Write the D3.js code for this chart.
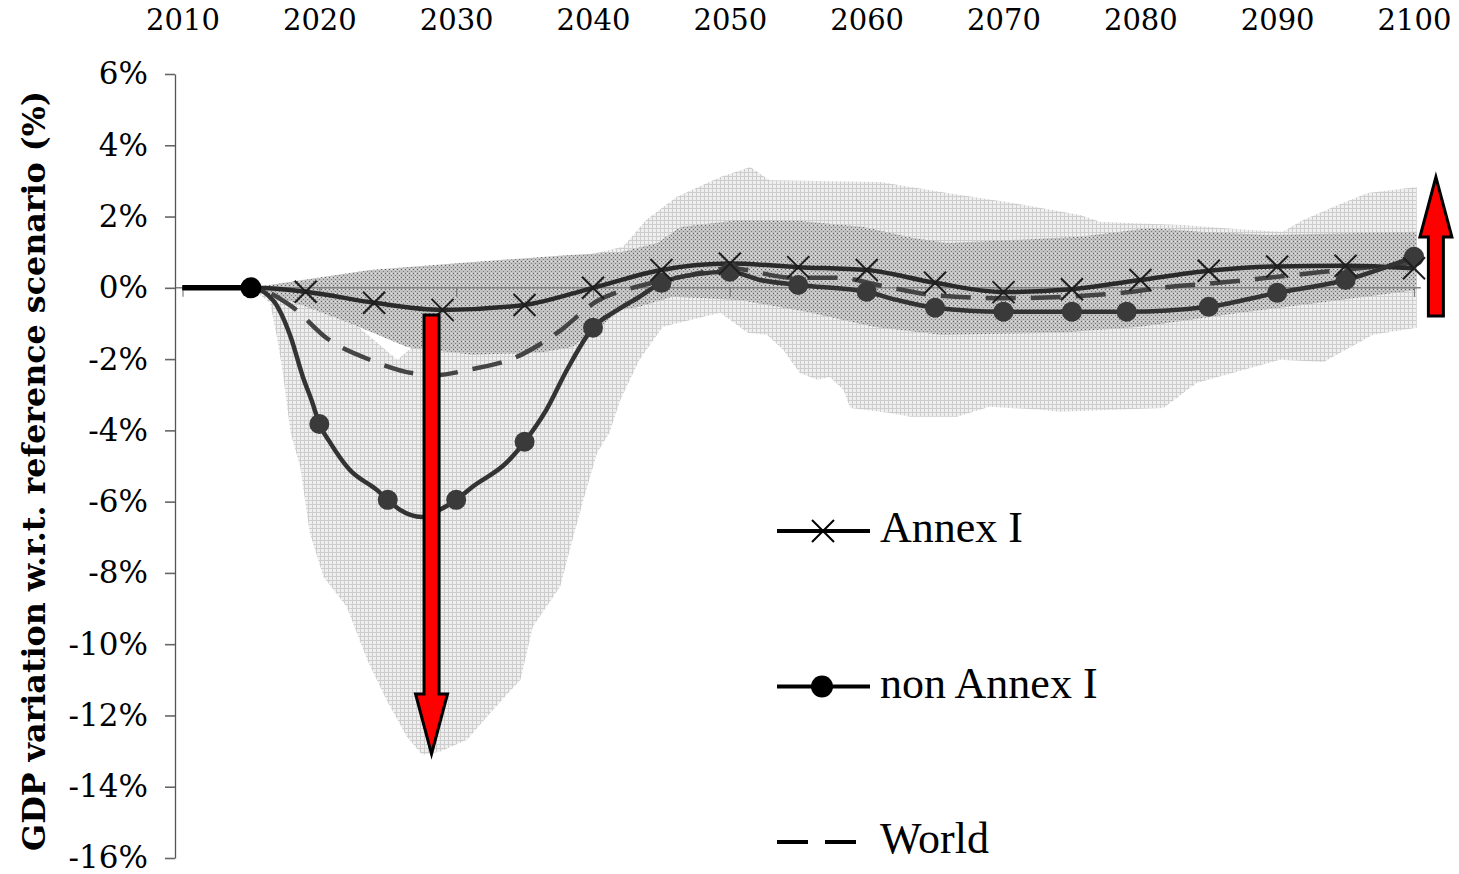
<!DOCTYPE html>
<html>
<head>
<meta charset="utf-8">
<script src="https://cdn.jsdelivr.net/npm/d3@7/dist/d3.min.js"></script>
<style>
  body { margin: 0; background: #fff; }
  svg { display: block; }
</style>
</head>
<body>
<script>
// tick labels
const topYears = [2010, 2020, 2030, 2040, 2050, 2060, 2070, 2080, 2090, 2100];
const yTicks = [-16, -14, -12, -10, -8, -6, -4, -2, 0, 2, 4, 6];
const zeroTicks = [2010, 2020, 2030, 2040, 2050, 2060, 2070, 2080, 2090, 2100];

// series [year, % GDP variation]
const annexI = [[2010,0],[2015,0],[2019,-0.11],[2024,-0.42],[2029,-0.62],[2035,-0.48],[2040,0.0],
  [2045,0.5],[2050,0.68],[2055,0.58],[2060,0.5],[2065,0.14],[2070,-0.12],[2075,-0.04],[2080,0.22],
  [2085,0.48],[2090,0.6],[2095,0.62],[2100,0.55]];
const annexIMarks = [2019, 2024, 2029, 2035, 2040, 2045, 2050, 2055, 2060, 2065, 2070, 2075, 2080, 2085, 2090, 2095, 2100];

const nonAnnexI = [[2010,0],[2015,0],[2016.6,-0.34],[2017.9,-1.37],[2018.8,-2.5],[2019.5,-3.23],[2020,-3.82],
  [2020.8,-4.35],[2022.2,-5.1],[2024.2,-5.67],[2025,-5.95],[2025.9,-6.23],[2027.5,-6.43],[2028.8,-6.23],
  [2030,-5.95],[2031.2,-5.58],[2033.7,-4.9],[2035,-4.32],[2036.6,-3.42],[2038.1,-2.3],[2040,-1.12],
  [2041.8,-0.62],[2043.4,-0.25],[2045,0.14],[2047.5,0.38],[2050,0.45],[2052.2,0.22],[2055,0.08],
  [2060,-0.11],[2062.2,-0.34],[2065,-0.56],[2070,-0.67],[2075,-0.67],[2079,-0.67],[2085,-0.53],
  [2090,-0.14],[2095,0.22],[2100,0.87]];
const nonAnnexIMarks = [2020, 2025, 2030, 2035, 2040, 2045, 2050, 2055, 2060, 2065, 2070, 2075, 2079, 2085, 2090, 2095, 2100];

const world = [[2010,0],[2015,0],[2017.9,-0.5],[2020.6,-1.43],[2023.9,-2.05],[2026.9,-2.4],[2028.5,-2.45],
  [2030.9,-2.3],[2034.3,-1.96],[2037.4,-1.26],[2040.3,-0.37],[2043.7,0.08],[2047,0.35],[2050,0.55],
  [2054.6,0.28],[2057.9,0.28],[2061.2,0.05],[2064.8,-0.2],[2070,-0.29],[2074.7,-0.25],[2078.7,-0.14],
  [2082.2,0.03],[2085.7,0.14],[2089.3,0.28],[2092.7,0.42],[2100,0.7]];

// uncertainty ranges
const outerUpper = [[2015,0],[2019,-0.3],[2022.5,-0.98],[2025.7,-2.02],[2026.8,-1.66],[2028,-0.9],[2032,0.4],
  [2036,0.75],[2039.05,0.87],[2042.2,1.15],[2043.9,1.91],[2046.1,2.55],[2049.3,3.11],[2051.5,3.39],
  [2052.9,3.02],[2061,2.97],[2065.9,2.66],[2070.7,2.38],[2075.6,2.04],[2077.1,1.85],[2083.1,1.76],
  [2088,1.62],[2090.4,1.57],[2091.9,1.9],[2094.1,2.27],[2096.6,2.66],[2100.2,2.83]];
const outerLower = [[2015,0],[2016.4,-0.42],[2016.9,-1.38],[2017.3,-2.3],[2017.9,-4.07],[2018.6,-5.02],
  [2019.3,-6.87],[2020.3,-8.11],[2022,-8.95],[2023.5,-10.44],[2024.9,-11.56],[2026.4,-12.6],[2027.5,-13.1],
  [2028.8,-13.02],[2030.8,-12.68],[2032.7,-11.84],[2034.7,-11.0],[2035.6,-9.51],[2037.6,-8.39],
  [2038.5,-7.07],[2039.3,-5.95],[2040.3,-4.63],[2041.2,-4.07],[2042,-3.14],[2043.4,-2.02],[2045.1,-1.09],
  [2049.3,-0.7],[2051.3,-1.26],[2052.7,-1.32],[2053.9,-1.74],[2055.1,-2.39],[2056.4,-2.58],[2057.3,-2.5],
  [2058.3,-2.86],[2058.8,-3.37],[2061.7,-3.51],[2063.2,-3.62],[2066.6,-3.62],[2069,-3.34],[2072.7,-3.42],
  [2074.1,-3.48],[2081.7,-3.37],[2084.1,-2.67],[2090.2,-2.02],[2093.4,-2.08],[2097,-1.32],[2100.2,-1.12]];
const innerUpper = [[2015,0],[2023.7,0.5],[2031,0.72],[2038.3,0.92],[2042,1.0],[2044.7,1.26],[2046.4,1.71],
  [2050.7,1.9],[2055,1.88],[2059.8,1.71],[2063.4,1.4],[2065.9,1.26],[2070.7,1.34],[2075.6,1.43],
  [2080.7,1.68],[2084.4,1.57],[2089.3,1.48],[2100.2,1.57]];
const innerLower = [[2015,0],[2019.1,-0.54],[2022.2,-0.99],[2026.4,-1.66],[2031.2,-1.88],[2036.1,-1.82],
  [2038.5,-1.66],[2040.8,-1.0],[2042,-0.62],[2043.4,-0.53],[2045.8,-0.25],[2050.7,-0.34],[2055.6,-0.67],
  [2060.5,-1.09],[2065.4,-1.32],[2074.1,-1.26],[2080,-1.09],[2087.3,-0.7],[2094.6,-0.34],[2100.2,-0.06]];

// red arrows: year, start value, end value
const arrowYears = [2028.2, 2101.6];
const arrowFrom = [-0.76, -0.79];
const arrowTo = [-13.08, 3.11];

const legendLabels = ["Annex I", "non Annex I", "World"];

const width = 1459, height = 874;

function draw() {
  let svg = d3.select("body").append("svg")
      .attr("width", width)
      .attr("height", height);

  let x = d3.scaleLinear().domain([2010, 2100]).range([182.5, 1414]);
  let y = d3.scaleLinear().domain([-16, 6]).range([858, 74]);

  // textures for the two ranges
  let defs = svg.append("defs");
  let pOuter = defs.append("pattern").attr("id", "outer")
      .attr("width", 4).attr("height", 4).attr("patternUnits", "userSpaceOnUse");
  pOuter.append("rect").attr("width", 4).attr("height", 4).attr("fill", "#efefef");
  pOuter.append("rect").attr("width", 4).attr("height", 1).attr("fill", "#cdcdcd");
  pOuter.append("rect").attr("width", 1).attr("height", 4).attr("fill", "#cdcdcd");

  let pInner = defs.append("pattern").attr("id", "inner")
      .attr("width", 4).attr("height", 4).attr("patternUnits", "userSpaceOnUse");
  pInner.append("rect").attr("width", 4).attr("height", 4).attr("fill", "#c2c2c2");
  pInner.append("rect").attr("x", 1).attr("y", 1).attr("width", 1).attr("height", 1).attr("fill", "#5e5e5e");
  pInner.append("rect").attr("x", 3).attr("y", 3).attr("width", 1).attr("height", 1).attr("fill", "#7a7a7a");
  pInner.append("rect").attr("x", 3).attr("y", 1).attr("width", 1).attr("height", 1).attr("fill", "#e6e6e6");

  let edge = d3.line().x(d => x(d[0])).y(d => y(d[1]));
  function band(upper, lower) {
    return edge(upper.concat(lower.slice().reverse())) + "Z";
  }

  svg.append("path").attr("d", band(outerUpper, outerLower)).attr("fill", "url(#outer)");
  svg.append("path").attr("d", band(innerUpper, innerLower)).attr("fill", "url(#inner)");

  // zero line with small ticks
  svg.append("line")
      .attr("x1", 175).attr("x2", x(2100.5))
      .attr("y1", y(0)).attr("y2", y(0))
      .attr("stroke", "#808080").attr("stroke-width", 1.5);
  let zx = svg.append("g")
      .attr("transform", "translate(0," + y(0) + ")")
      .call(d3.axisBottom(x).tickValues(zeroTicks).tickSize(9).tickFormat(""));
  zx.select(".domain").remove();
  zx.selectAll("line").attr("stroke", "#808080").attr("stroke-width", 1.2);

  // y axis
  let ya = svg.append("g")
      .attr("transform", "translate(175,0)")
      .call(d3.axisLeft(y).tickValues(yTicks).tickSize(10).tickSizeOuter(0)
        .tickPadding(17).tickFormat(d => d + "%"));
  ya.select(".domain").attr("stroke", "#555").attr("stroke-width", 1.3);
  ya.selectAll("line").attr("stroke", "#666").attr("stroke-width", 1.6);
  ya.selectAll("text")
      .attr("font-family", "'DejaVu Serif', serif")
      .attr("font-size", 31)
      .attr("fill", "#000");

  // year labels on top
  let xa = svg.append("g")
      .attr("transform", "translate(0,30)")
      .call(d3.axisTop(x).tickValues(topYears).tickSize(0).tickPadding(0).tickFormat(d3.format("d")));
  xa.select(".domain").remove();
  xa.selectAll("text")
      .attr("font-family", "'DejaVu Serif', serif")
      .attr("font-size", 29)
      .attr("fill", "#000");

  // axis title, sized to the reference span
  let title = svg.append("text")
      .attr("transform", "translate(45,471)rotate(-90)")
      .attr("text-anchor", "middle")
      .attr("font-family", "'DejaVu Serif', serif")
      .attr("font-weight", "bold")
      .attr("font-size", 30)
      .text("GDP variation w.r.t. reference scenario (%)");
  let len = title.node().getComputedTextLength();
  title.attr("font-size", 30 * 760 / len);

  // series
  let line = d3.line().x(d => x(d[0])).y(d => y(d[1])).curve(d3.curveMonotoneX);

  svg.append("path").attr("d", line(world))
      .attr("fill", "none").attr("stroke", "#444").attr("stroke-width", 4.5)
      .attr("stroke-dasharray", "30,15");
  svg.append("path").attr("d", line(annexI))
      .attr("fill", "none").attr("stroke", "#2a2a2a").attr("stroke-width", 4.5);
  svg.append("path").attr("d", line(nonAnnexI))
      .attr("fill", "none").attr("stroke", "#333").attr("stroke-width", 4.5);

  // common starting stretch
  svg.append("path").attr("d", line(nonAnnexI.filter(d => d[0] <= 2015)))
      .attr("fill", "none").attr("stroke", "#000").attr("stroke-width", 5.5);
  svg.append("circle").attr("cx", x(2015)).attr("cy", y(0)).attr("r", 10.5).attr("fill", "#000");

  let valueAt = (series, yr) => series.find(d => d[0] === yr)[1];

  svg.selectAll(".dot")
      .data(nonAnnexIMarks)
      .enter()
      .append("circle")
      .attr("class", "dot")
      .attr("cx", d => x(d))
      .attr("cy", d => y(valueAt(nonAnnexI, d)))
      .attr("r", 10)
      .attr("fill", "#3a3a3a");

  svg.selectAll(".cross")
      .data(annexIMarks)
      .enter()
      .append("path")
      .attr("class", "cross")
      .attr("transform", d => "translate(" + x(d) + "," + y(valueAt(annexI, d)) + ")")
      .attr("d", "M-11,-11L11,11M-11,11L11,-11")
      .attr("stroke", "#1e1e1e").attr("stroke-width", 2);

  // red arrows
  arrowYears.forEach(function (yr, i) {
    let cx = x(yr), y0 = y(arrowFrom[i]), y1 = y(arrowTo[i]);
    let dir = y1 > y0 ? 1 : -1;
    let sw = 7.5, hw = 16, hl = 60;
    let yb = y1 - dir * hl;
    let pts = [[cx - sw, y0], [cx - sw, yb], [cx - hw, yb], [cx, y1],
               [cx + hw, yb], [cx + sw, yb], [cx + sw, y0]];
    svg.append("path")
        .attr("d", d3.line()(pts) + "Z")
        .attr("fill", "#ff0000")
        .attr("stroke", "#000")
        .attr("stroke-width", 3)
        .attr("stroke-linejoin", "miter");
  });

  // legend
  let lg = svg.append("g").attr("transform", "translate(777,531)");
  let rows = lg.selectAll(".row")
      .data(legendLabels)
      .enter()
      .append("g")
      .attr("class", "row")
      .attr("transform", (d, i) => "translate(0," + (i * 155.5) + ")");
  rows.append("line")
      .attr("x1", 0).attr("x2", 93).attr("y1", 0).attr("y2", 0)
      .attr("stroke", "#000").attr("stroke-width", 4)
      .attr("stroke-dasharray", (d, i) => i === 2 ? "31,17" : null);
  rows.filter((d, i) => i === 0).append("path")
      .attr("d", "M35,-11L57,11M35,11L57,-11")
      .attr("stroke", "#000").attr("stroke-width", 2);
  rows.filter((d, i) => i === 1).append("circle")
      .attr("cx", 45).attr("cy", 0).attr("r", 11).attr("fill", "#000");
  rows.append("text")
      .attr("x", 103)
      .attr("y", 11)
      .attr("font-family", "'Liberation Serif', serif")
      .attr("font-size", 44)
      .attr("fill", "#000")
      .text(d => d);
}

window.onload = draw;
</script>
</body>
</html>
